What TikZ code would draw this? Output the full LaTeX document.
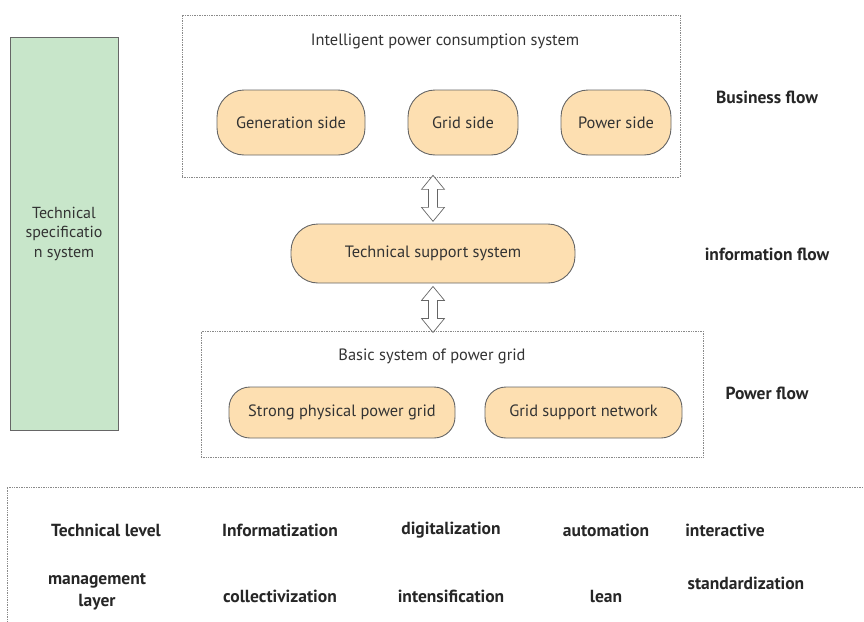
\documentclass[tikz,border=0pt]{standalone}
\usepackage{fontspec}
\setmainfont{PT Sans}
\usetikzlibrary{calc}
\definecolor{boxorange}{HTML}{FDDFB1}
\definecolor{boxgreen}{HTML}{C8E6CA}
\definecolor{edgegray}{HTML}{666666}
\definecolor{dotgray}{HTML}{8A8A8A}
\definecolor{txtgray}{HTML}{333333}
\tikzset{
  pill/.style={draw=edgegray, line width=0.9pt, fill=boxorange, rounded corners=27pt,
    text=txtgray, font=\fontsize{16.4}{18}\selectfont, inner sep=0pt},
  dotbox/.style={draw=dotgray, densely dotted, line width=0.7pt, inner sep=0pt},
  greenbox/.style={draw=edgegray, line width=0.9pt, fill=boxgreen, inner sep=0pt,
    text=txtgray, font=\fontsize{16}{19.5}\selectfont, align=center},
  plain/.style={text=txtgray, font=\fontsize{16.4}{18}\selectfont, inner sep=0pt},
  boldlab/.style={text=black!85, font=\bfseries\fontsize{17.5}{20}\selectfont, inner sep=0pt, align=center},
  dbl/.style={draw=edgegray, fill=white, line width=0.7pt, line join=miter}
}
\begin{document}
\begin{tikzpicture}[x=1pt,y=-1pt]
\useasboundingbox (0,0) rectangle (864,621);
\clip (0,0) rectangle (864,621);
% left green box
\node[greenbox, minimum width=108, minimum height=393] (spec) at (64,233.5) {Technical\\specificatio\\n system};
% top dotted box
\node[dotbox, minimum width=498, minimum height=162] (ibox) at (431,96) {};
\node[plain] (ititle) at (445,41) {Intelligent power consumption system};
\node[pill, minimum width=148, minimum height=65] (gen) at (291,122.5) {Generation side};
\node[pill, minimum width=110, minimum height=65] (grid) at (463,122.5) {Grid side};
\node[pill, minimum width=110, minimum height=65] (pow) at (616,122.5) {Power side};
% middle
\node[pill, minimum width=284, minimum height=59] (tss) at (433,253.5) {Technical support system};
% bottom dotted box
\node[dotbox, minimum width=502, minimum height=126] (bbox) at (452,394) {};
\node[plain] (btitle) at (432,356) {Basic system of power grid};
\node[pill, minimum width=226, minimum height=51, rounded corners=21pt] (strong) at (342,412.5) {Strong physical power grid};
\node[pill, minimum width=197, minimum height=51, rounded corners=21pt] (gsn) at (583.5,412.5) {Grid support network};
% double arrows
\draw[dbl] ($(ibox.south -| tss.north)+(0,-2)$) -- ++(-11.5,14) -- ++(7,0) -- ++(0,18) -- ++(-7,0)
  -- ++(11.5,14) -- ++(11.5,-14) -- ++(-7,0) -- ++(0,-18) -- ++(7,0) -- cycle;
\draw[dbl] ($(tss.south)+(0,3)$) -- ++(-11.5,14) -- ++(7,0) -- ++(0,18) -- ++(-7,0)
  -- ++(11.5,14) -- ++(11.5,-14) -- ++(-7,0) -- ++(0,-18) -- ++(7,0) -- cycle;
% flow labels
\node[boldlab] (bflow) at (767,97) {Business flow};
\node[boldlab] (iflow) at (767,254) {information flow};
\node[boldlab] (pflow) at (767,393) {Power flow};
% bottom table box
\node[dotbox, minimum width=880, minimum height=160] (tbl) at (447,567) {};
\node[boldlab] (t11) at (106,530) {Technical level};
\node[boldlab] (t12) at (280,530) {Informatization};
\node[boldlab] (t13) at (451,530) {digitalization};
\node[boldlab] (t14) at (606,530) {automation};
\node[boldlab] (t15) at (725,530) {interactive};
\node[boldlab, font=\bfseries\fontsize{17.5}{22}\selectfont] (t21) at (97,592) {management\\layer};
\node[boldlab] (t22) at (280,596) {collectivization};
\node[boldlab] (t23) at (451,596) {intensification};
\node[boldlab] (t24) at (606,596) {lean};
\node[boldlab] (t25) at (746,583) {standardization};
\end{tikzpicture}
\end{document}
